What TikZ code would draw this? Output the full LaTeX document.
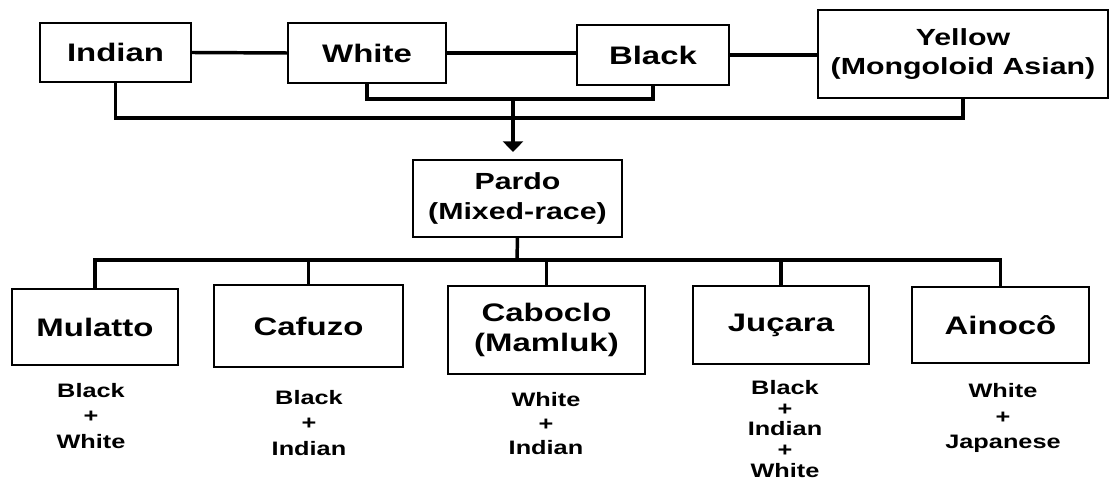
\documentclass[tikz,border=0pt]{standalone}
\usepackage{fontspec}
\setmainfont{Liberation Sans}[FakeStretch=1.3]
\usetikzlibrary{arrows.meta}

\begin{document}
\begin{tikzpicture}[x=0.75pt, y=-0.75pt, >={Triangle[width=15pt,length=8pt]},
  racebox/.style={draw, line width=2pt, inner sep=0pt, outer sep=0pt, align=center,
    font=\fontsize{19}{22}\selectfont\bfseries},
  twoline/.style={font=\fontsize{17.5}{22}\selectfont\bfseries},
  mixlabel/.style={align=center, inner sep=0pt, font=\fontsize{14.6}{19}\selectfont\bfseries},
  link/.style={line width=2.6pt}]
\useasboundingbox (0,0) rectangle (1111,484);

% parent groups
\node[racebox, minimum width=113.25pt, minimum height=44.25pt] (indian) at (115.5,52.5) {Indian};
\node[racebox, minimum width=118.5pt, minimum height=45pt] (white) at (367,53) {White};
\node[racebox, minimum width=114pt, minimum height=45pt] (black) at (653,55) {Black};
\node[racebox, twoline, minimum width=217.5pt, minimum height=66pt] (yellow) at (963,54) {Yellow\\(Mongoloid Asian)};

\node[racebox, twoline, minimum width=156.75pt, minimum height=57.75pt] (pardo) at (517.5,198.5) {Pardo\\(Mixed-race)};

% mixtures
\node[racebox, minimum width=124.5pt, minimum height=57pt] (mulatto) at (95,327) {Mulatto};
\node[racebox, minimum width=141.75pt, minimum height=61.5pt] (cafuzo) at (308.5,326) {Cafuzo};
\node[racebox, minimum width=147.75pt, minimum height=66pt] (caboclo) at (546.5,330) {Caboclo\\(Mamluk)};
\node[racebox, minimum width=132pt, minimum height=58.5pt] (jucara) at (781,325) {Juçara};
\node[racebox, minimum width=132.75pt, minimum height=57pt] (ainoco) at (1000.5,325) {Ainocô};

\node[mixlabel] (lmulatto) at (91,416) {Black\\+\\White};
\node[mixlabel] (lcafuzo) at (309,423) {Black\\+\\Indian};
\node[mixlabel, font=\fontsize{14.6}{18}\selectfont\bfseries] (lcaboclo) at (546,424) {White\\+\\Indian};
\node[mixlabel, font=\fontsize{14.6}{15.5}\selectfont\bfseries] (ljucara) at (785,429) {Black\\+\\Indian\\+\\White};
\node[mixlabel] (lainoco) at (1003,418) {White\\+\\Japanese};

% connectors
\coordinate (j1) at (513,99);
\coordinate (j2) at (513,118);
\coordinate (j3) at (517,260);
\draw[link] (indian.east) -- (white.west);
\draw[link] (white.east) -- (white.east -| black.west);
\draw[link] (black.east) -- (black.east -| yellow.west);
\draw[link] (white.south) |- (j1) -| (black.south);
\draw[link] (indian.south) |- (j2) -| (yellow.south);
\draw[link, ->] (j1) -- ([yshift=6pt]j1 |- pardo.north);
\draw[link] (pardo.south) -- (j3);
\draw[link] (mulatto.north) |- (j3) -| (ainoco.north);
\foreach \n in {cafuzo, caboclo, jucara}
  \draw[link] (\n.north) -- (\n.north |- j3);

\end{tikzpicture}
\end{document}
